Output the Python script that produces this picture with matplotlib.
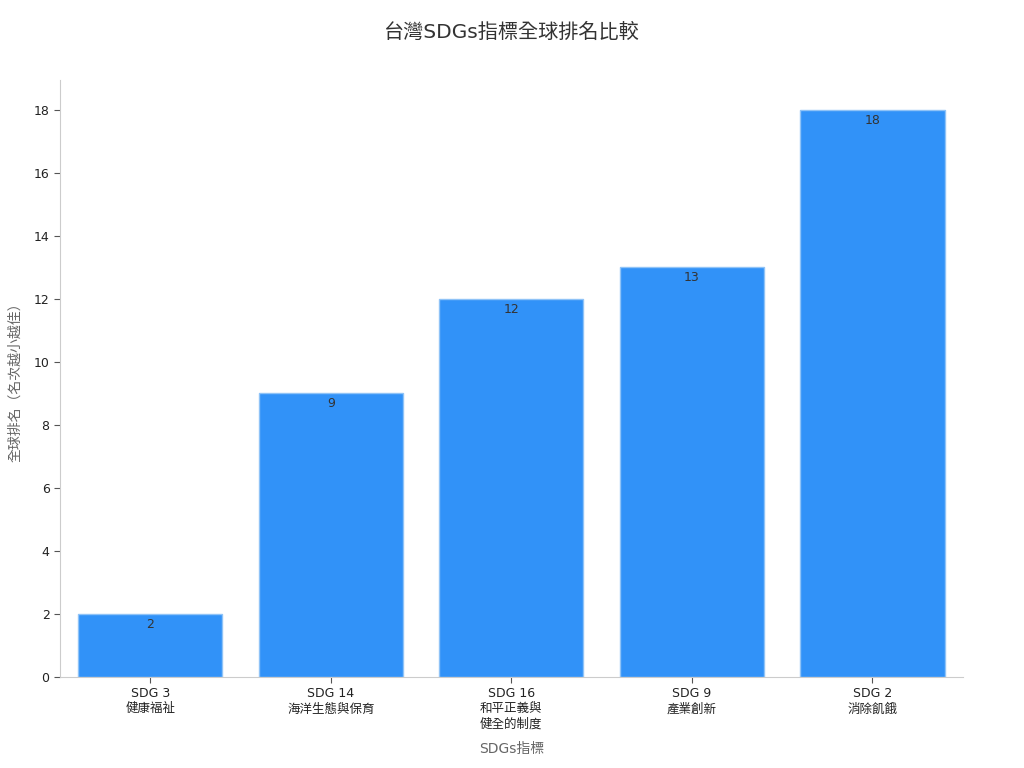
import matplotlib
matplotlib.use("Agg")
import matplotlib.pyplot as plt

plt.rcParams['font.family'] = ['DejaVu Sans', 'Noto Sans CJK TC']

categories = ["SDG 3\n健康福祉", "SDG 14\n海洋生態與保育", "SDG 16\n和平正義與\n健全的制度", "SDG 9\n產業創新", "SDG 2\n消除飢餓"]
ranks = [2, 9, 12, 13, 18]

fig = plt.figure(figsize=(10.24, 7.68), dpi=100)
ax = fig.add_axes([0.0586, 0.1185, 0.8814, 0.7775])

x = list(range(len(categories)))
bars = ax.bar(x, ranks, width=0.8, color="#3192F8", edgecolor="#8fc3f7", linewidth=1)
for xi, v in zip(x, ranks):
    ax.text(xi, v - 0.12, str(v), ha="center", va="top", fontsize=9, color="#333333")

ax.set_xlim(-0.5, 4.5)
ax.set_ylim(0, 18.95)
ax.set_yticks(range(0, 19, 2))
ax.set_xticks(x)
ax.set_xticklabels(categories, fontsize=9, color="#222222")
ax.tick_params(axis="y", labelsize=9, colors="#222222")
ax.tick_params(axis="both", color="#555555", length=4)
for s in ["top", "right"]:
    ax.spines[s].set_visible(False)
for s in ["left", "bottom"]:
    ax.spines[s].set_color("#cccccc")

ax.set_xlabel("SDGs指標", fontsize=10, color="#666666", labelpad=8)
ax.set_ylabel("全球排名（名次越小越佳）", fontsize=10, color="#666666", labelpad=8)
fig.suptitle("台灣SDGs指標全球排名比較", fontsize=14.5, color="#333333", y=0.97)

fig.savefig("out.png", dpi=100)
